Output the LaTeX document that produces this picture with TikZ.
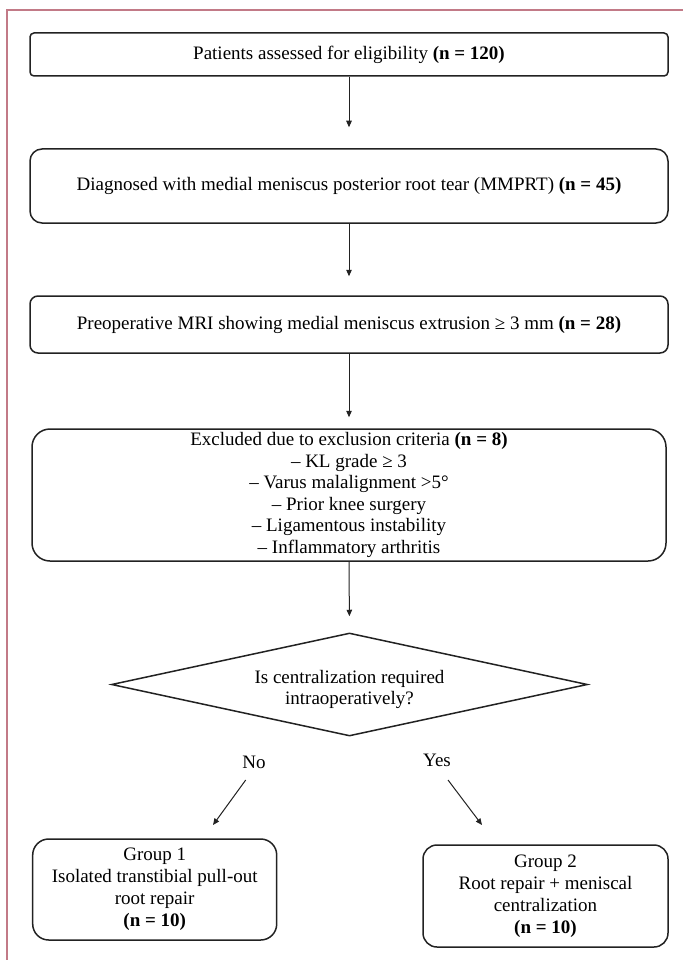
\documentclass[tikz,border=0pt]{standalone}
\usepackage{fontspec}
\setmainfont{Liberation Serif}
\usetikzlibrary{shapes.geometric,arrows.meta}
\newcommand\dfont{\fontsize{19}{21.5}\selectfont}
\newcommand\gfont{\fontsize{19}{22}\selectfont}
\definecolor{frame}{HTML}{C27A87}
\definecolor{ink}{HTML}{222222}
\begin{document}
\begin{tikzpicture}[x=1pt,y=-1pt,
  box/.style={draw=ink,line width=1.5pt,align=center,font=\dfont,inner sep=0pt},
  dia/.style={draw=ink,line width=1.5pt,diamond,shape aspect=4.62,inner sep=0pt,
    minimum width=476pt,minimum height=103pt},
  lbl/.style={font=\dfont,inner sep=0pt},
  arr/.style={draw=ink,line width=1pt,-{Triangle[length=6.5pt,width=5.5pt]}},
  border/.style={draw=frame,line width=1.2pt}
]
\fill[white] (0,0) rectangle (683,960);
\useasboundingbox (0,0) rectangle (683,960);
\draw[border] (7,960) -- (7,10) -- (683,10);

\node[box,rounded corners=4pt,minimum width=638pt,minimum height=43pt] (b1) at (349,54.5)
  {Patients assessed for eligibility \textbf{(n = 120)}};
\node[box,rounded corners=12pt,minimum width=638pt,minimum height=74pt] (b2) at (349,186)
  {Diagnosed with medial meniscus posterior root tear (MMPRT) \textbf{(n = 45)}};
\node[box,rounded corners=8pt,minimum width=638pt,minimum height=57pt] (b3) at (349,324.5)
  {Preoperative MRI showing medial meniscus extrusion ≥ 3 mm \textbf{(n = 28)}};
\node[box,rounded corners=18pt,minimum width=634pt,minimum height=132pt] (b4) at (349,495)
  {Excluded due to exclusion criteria \textbf{(n = 8)}\\
   – KL grade ≥ 3\\
   – Varus malalignment >5°\\
   – Prior knee surgery\\
   – Ligamentous instability\\
   – Inflammatory arthritis};
\node[dia,label={[lbl,align=center,yshift=-5pt]center:Is centralization required\\intraoperatively?}]
  (d) at (349.5,684.5) {};
\node[lbl] (no) at (254,762) {No};
\node[lbl] (yes) at (437,760) {Yes};
\coordinate (noA) at (245.7,780);
\coordinate (noB) at (213,825);
\coordinate (yesA) at (448,780);
\coordinate (yesB) at (482,825);
\node[box,font=\gfont,rounded corners=16pt,minimum width=244pt,minimum height=101pt] (g1) at (154.7,889.5)
  {Group 1\\Isolated transtibial pull-out\\root repair\\\textbf{(n = 10)}};
\node[box,font=\gfont,rounded corners=14pt,minimum width=245pt,minimum height=102pt] (g2) at (545.5,896)
  {Group 2\\Root repair + meniscal\\centralization\\\textbf{(n = 10)}};

\draw[arr,shorten >=21pt] (b1.south) -- (b2.north);
\draw[arr,shorten >=19pt] (b2.south) -- (b3.north);
\draw[arr,shorten >=11pt] (b3.south) -- (b4.north);
\draw[arr,shorten >=16pt] (b4.south) -- (d.north);
\draw[arr] (noA) -- (noB);
\draw[arr] (yesA) -- (yesB);
\end{tikzpicture}
\end{document}
